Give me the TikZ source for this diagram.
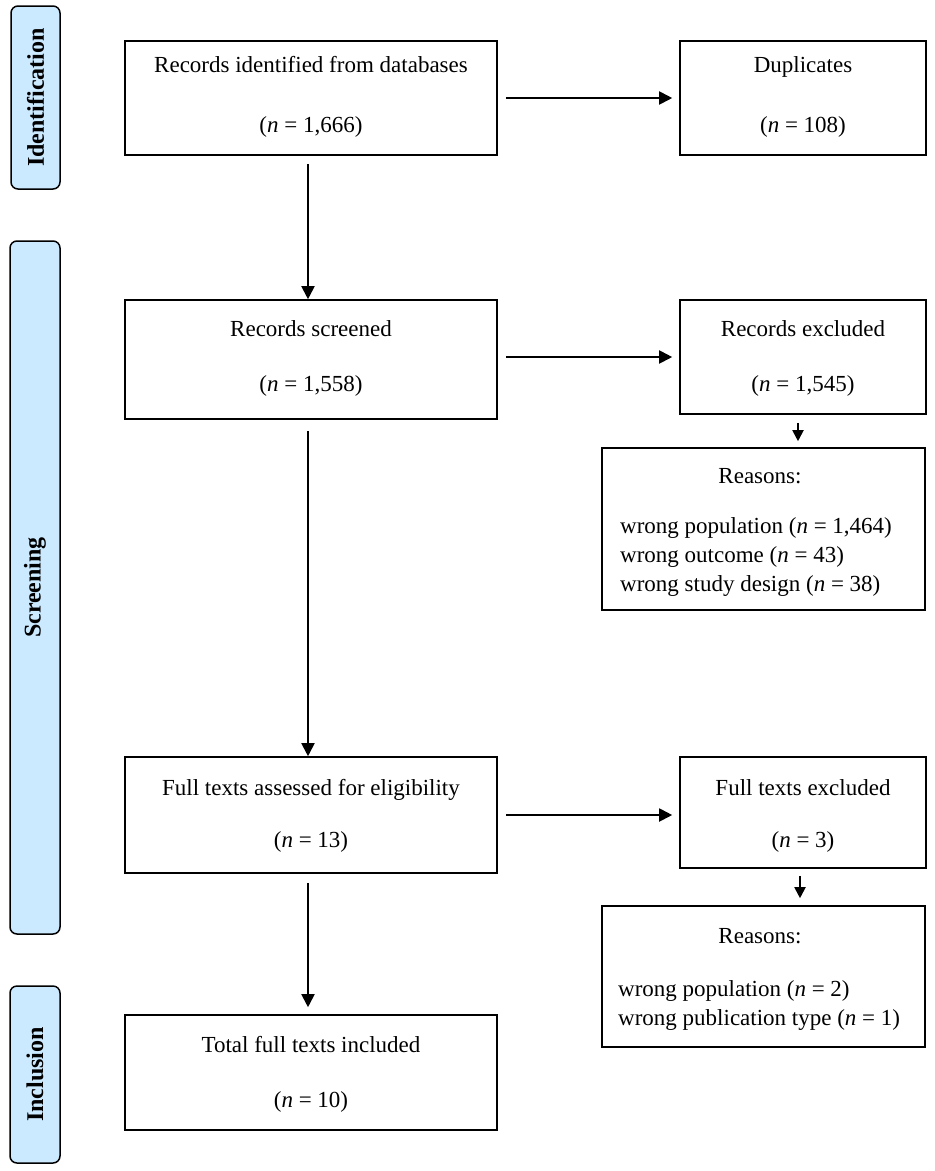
\documentclass[tikz,border=0pt]{standalone}
\usepackage{fontspec}
\setmainfont{Liberation Serif}
\usetikzlibrary{arrows.meta}
\definecolor{stagefill}{RGB}{204,234,255}
\begin{document}
\begin{tikzpicture}[x=1pt,y=-1pt,
  box/.style={draw, line width=1.6pt, inner sep=0pt},
  stage/.style={draw, line width=1.5pt, fill=stagefill, rounded corners=7pt, inner sep=0pt},
  stagetxt/.style={rotate=90, font=\fontsize{24}{28}\selectfont\bfseries, inner sep=0pt},
  txt/.style={font=\fontsize{23}{28}\selectfont, inner sep=0pt, text height=16pt, text depth=5pt},
  arr/.style={line width=1.9pt, -{Triangle[length=13pt,width=13pt]}},
  sarr/.style={line width=1.9pt, -{Triangle[length=11pt,width=11pt]}}
]
\useasboundingbox (0,0) rectangle (935,1171);
\fill[white] (0,0) rectangle (935,1171);

% stage labels
\node[stage, minimum width=49pt, minimum height=183pt] (idl) at (35.5,97.5) {};
\node[stagetxt] (idt) at (idl.center) {Identification};
\node[stage, minimum width=50pt, minimum height=693pt] (scl) at (35,587.5) {};
\node[stagetxt] (sct) at (scl.center) {Screening};
\node[stage, minimum width=50pt, minimum height=177pt] (inl) at (35,1074.5) {};
\node[stagetxt] (intx) at (inl.center) {Inclusion};

% boxes
\node[box, minimum width=372pt, minimum height=114pt] (b1) at (311,98) {};
\node[box, minimum width=246pt, minimum height=114pt] (dup) at (803,98) {};
\node[box, minimum width=372pt, minimum height=119pt] (b2) at (311,359.5) {};
\node[box, minimum width=246pt, minimum height=114pt] (exc1) at (803,357) {};
\node[box, minimum width=323pt, minimum height=162pt] (r1) at (763.5,529) {};
\node[box, minimum width=372pt, minimum height=116pt] (b3) at (311,815) {};
\node[box, minimum width=246pt, minimum height=111pt] (exc2) at (803,812.5) {};
\node[box, minimum width=323pt, minimum height=141pt] (r2) at (763.5,976.5) {};
\node[box, minimum width=372pt, minimum height=115pt] (b4) at (311,1072.5) {};

% texts
\node[txt] (t1a) at (311,67) {Records identified from databases};
\node[txt] (t1b) at (311,127) {(\textit{n} = 1,666)};
\node[txt] (tda) at (803,67) {Duplicates};
\node[txt] (tdb) at (803,127) {(\textit{n} = 108)};
\node[txt] (t2a) at (311,331) {Records screened};
\node[txt] (t2b) at (311,386) {(\textit{n} = 1,558)};
\node[txt] (tea) at (803,331) {Records excluded};
\node[txt] (teb) at (803,386) {(\textit{n} = 1,545)};
\node[txt] (tr1) at (760,478) {Reasons:};
\node[txt, anchor=west] (tr1a) at (620,528) {wrong population (\textit{n} = 1,464)};
\node[txt, anchor=west] (tr1b) at (620,557) {wrong outcome (\textit{n} = 43)};
\node[txt, anchor=west] (tr1c) at (620,586) {wrong study design (\textit{n} = 38)};
\node[txt] (t3a) at (311,790) {Full texts assessed for eligibility};
\node[txt] (t3b) at (311,842) {(\textit{n} = 13)};
\node[txt] (tfa) at (803,790) {Full texts excluded};
\node[txt] (tfb) at (803,842) {(\textit{n} = 3)};
\node[txt] (tr2) at (760,938) {Reasons:};
\node[txt, anchor=west] (tr2a) at (618,991) {wrong population (\textit{n} = 2)};
\node[txt, anchor=west] (tr2b) at (618,1020) {wrong publication type (\textit{n} = 1)};
\node[txt] (t4a) at (311,1047) {Total full texts included};
\node[txt] (t4b) at (311,1102) {(\textit{n} = 10)};

% connectors
\draw[arr, shorten <=8pt, shorten >=7pt] (b1.east) -- (dup.west);
\draw[arr, shorten <=8pt, shorten >=7pt] (b2.east |- exc1.west) -- (exc1.west);
\draw[arr, shorten <=8pt, shorten >=7pt] (b3.east) -- (b3.east -| exc2.west);
\draw[arr, shorten <=8pt] ([xshift=-3pt]b1.south) -- ([xshift=-3pt]b2.north);
\draw[arr, shorten <=11pt] ([xshift=-3pt]b2.south) -- ([xshift=-3pt]b3.north);
\draw[arr, shorten <=9pt, shorten >=7pt] ([xshift=-3pt]b3.south) -- ([xshift=-3pt]b4.north);
\draw[sarr, shorten <=8pt, shorten >=6pt] ([xshift=-5pt]exc1.south) -- ([xshift=-5pt]exc1.south |- r1.north);
\draw[sarr, shorten <=7pt, shorten >=7pt] ([xshift=-3pt]exc2.south) -- ([xshift=-3pt]exc2.south |- r2.north);
\end{tikzpicture}
\end{document}
